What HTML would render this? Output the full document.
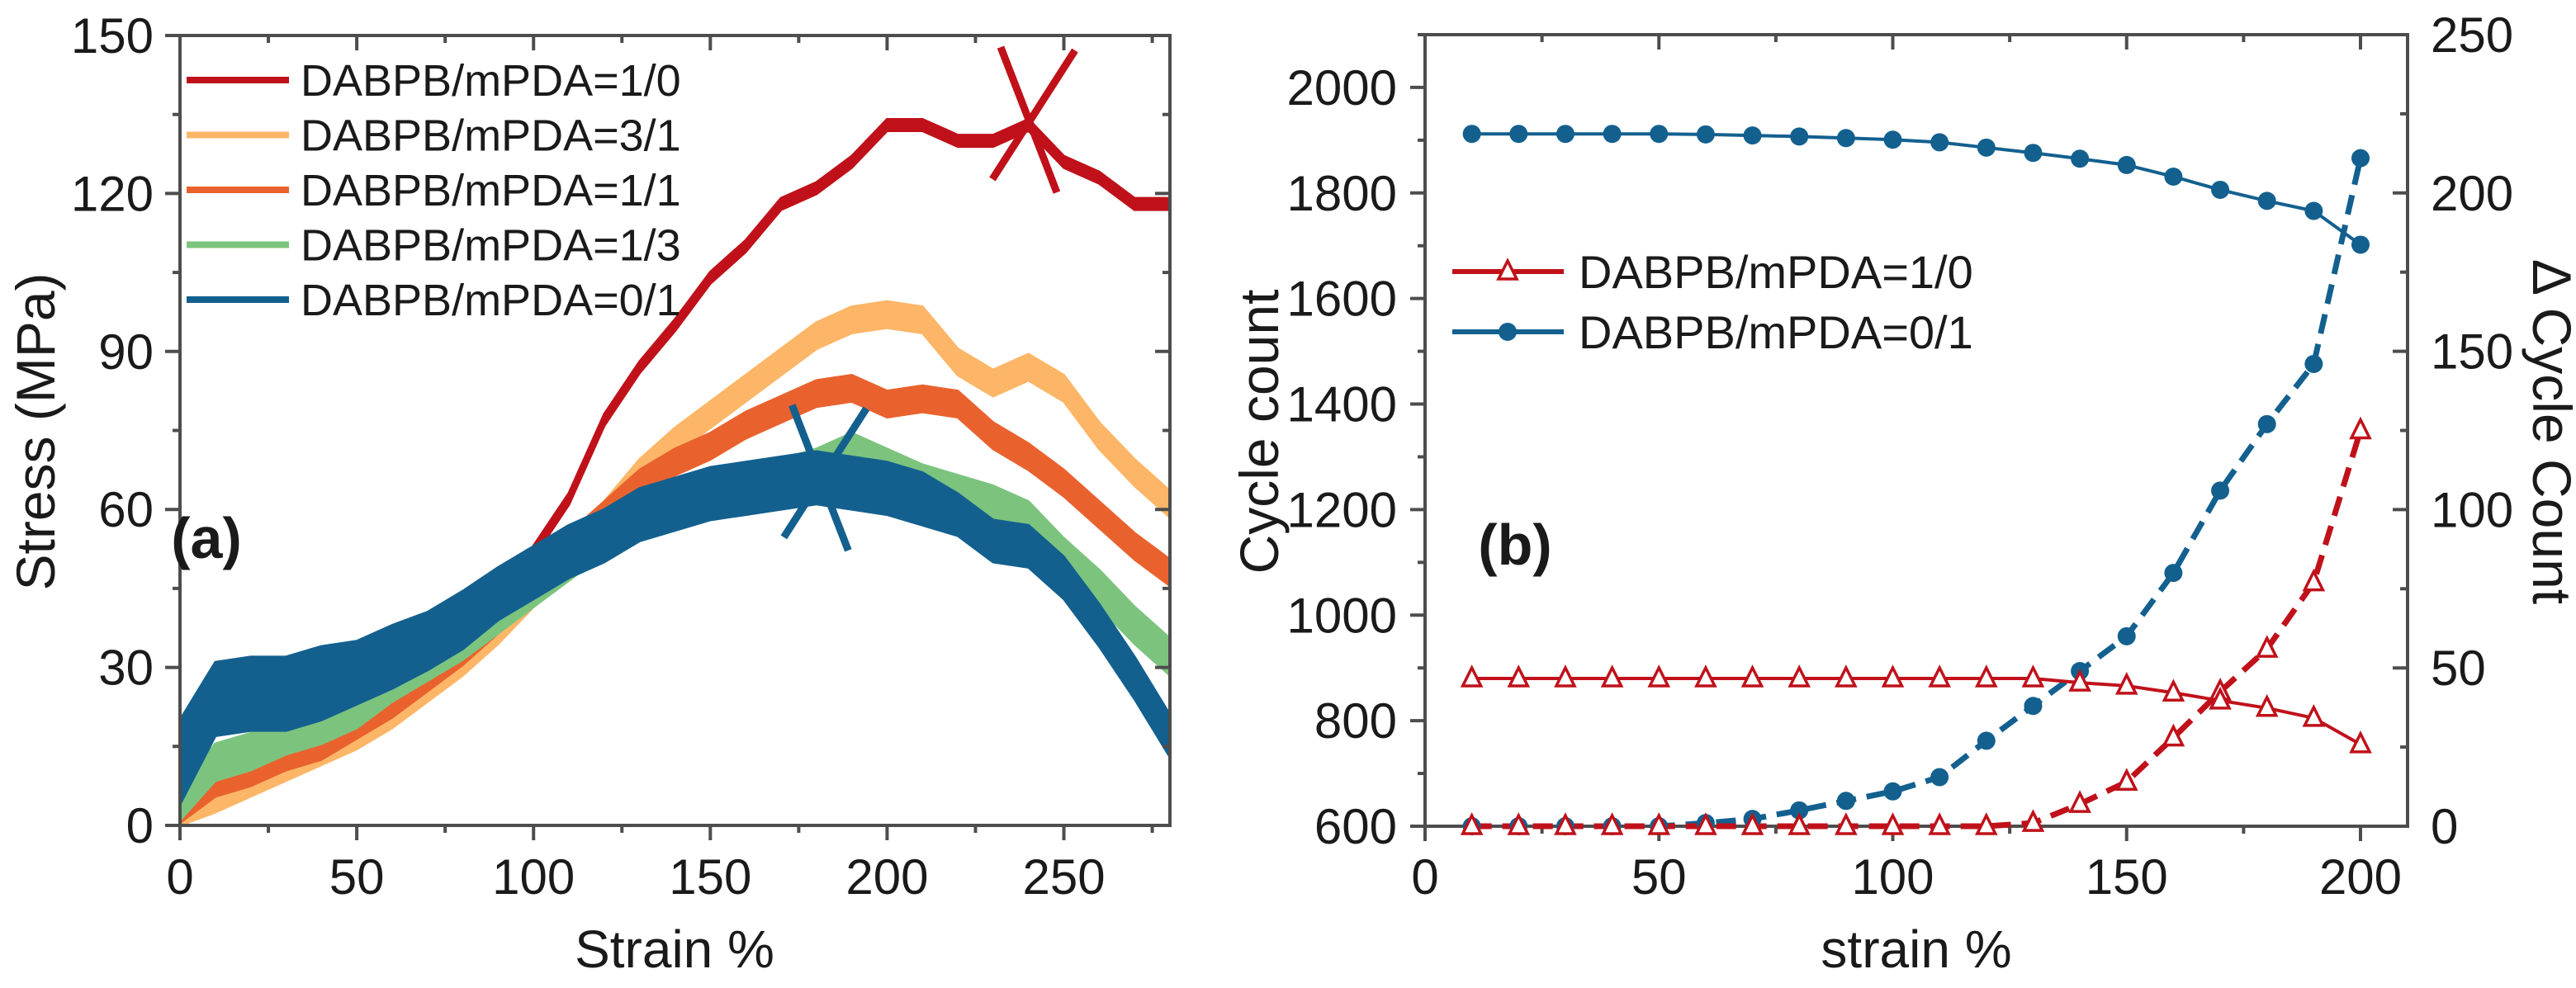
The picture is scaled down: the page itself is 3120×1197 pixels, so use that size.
<!DOCTYPE html>
<html><head><meta charset="utf-8"><style>
html,body{margin:0;padding:0;background:#fff;}
svg{display:block;font-family:"Liberation Sans",Arial,sans-serif;}
</style></head><body>
<svg id="fig" width="3120" height="1197" viewBox="0 0 3120 1197" xmlns="http://www.w3.org/2000/svg">
<g id="pa"></g>
<g id="pb"></g>
</svg>
<script>
// ---------- Panel (a) data ----------
const strainA = [0,10,20,30,40,50,60,70,80,90,100,110,120,130,140,150,160,170,180,190,200,210,220,230,240,250,260,270,280];
const red10 = [0,4,7,10,13,16,20,25,31,38,52,62,77,87,95,104,110,118,121,126,133,133,130,130,133,126,123,118,118];
const red10W = [0.5,0.5,0.5,0.5,0.5,0.5,0.5,0.5,0.5,0.5,1.1,1.1,1.1,1.1,1.1,1.1,1.1,1.1,1.1,1.1,1.1,1.1,1.1,1.1,1.1,1.1,1.1,1.1,1.1];
const lor31 = [0,5,8,11,14,17,21,26,31,37,44,52,59,67,73,78,83,88,93,96,97,96,88,84,87,83,74,67,61];
const lor31W = [1.5,2.5,2.5,2.5,2.5,2.5,2.5,2.5,2.5,2.5,2.5,2.5,2.5,2.5,2.5,2.5,2.5,2.5,2.5,2.5,2.5,2.5,2.5,2.5,2.5,2.5,2.5,2.5,2.5];
const or11 = [2,8,10,13,15,19,23,28,33,39,46,53,59,65,69,72,76,79,82,83,80,81,80,74,70,65,59,53,48];
const or11W = [1.5,2.5,2.5,2.5,2.5,2.5,2.5,2.5,2.5,2.5,2.5,2.5,2.5,2.5,2.5,2.5,2.5,2.5,2.5,2.5,2.5,2.5,2.5,2.5,2.5,2.5,2.5,2.5,2.5];
const gr13 = [4,12,14,17,19,22,27,31,35,40,45,50,55,58,61,63,65,66,68,71,68,65,63,61,58,51,45,38,32];
const gr13W = [3,3.5,3.5,3.5,3.5,3.5,3.5,3.5,3.5,3.5,3.5,3.5,3.5,3.5,3.5,3.5,3.5,3.5,3.5,3.5,3.5,3.5,3.5,3.5,3.5,3.5,3.5,3.5,3.5];
const bl01 = [12,24,25,25,27,29,32,35,39,44,48,52,55,59,61,63,64,65,66,65,64,62,59,54,53,47,38,28,17];
const bl01W = [8,7,7,7,7,6,6,5.5,5.5,5,5,5,5,5,5,5,5,5,5,5,5,5,4,4,4,4,4,4,4];
const breakA = [[241,134],[182,66]];
const xTicksA = [0,50,100,150,200,250];
const yTicksA = [0,30,60,90,120,150];
const legendA = ["DABPB/mPDA=1/0","DABPB/mPDA=3/1","DABPB/mPDA=1/1","DABPB/mPDA=1/3","DABPB/mPDA=0/1"];

// ---------- Panel (b) data ----------
const strainB = [10,20,30,40,50,60,70,80,90,100,110,120,130,140,150,160,170,180,190,200];
const cycBlue = [1912,1912,1912,1912,1912,1911,1909,1907,1904,1901,1896,1886,1876,1865,1853,1831,1806,1785,1766,1702];
const cycRed = [880,880,880,880,880,880,880,880,880,880,880,880,880,872,866,853,838,824,805,755];
const dBlue = [0,0,0,0,0,1,2.3,5,8,11,15.5,27,38,49,60,80,106,127,146,211];
const dRed = [0,0,0,0,0,0,0,0,0,0,0,0,1,7,14,28,42.5,56,77,125];
const xTicksB = [0,50,100,150,200];
const yTicksBL = [600,800,1000,1200,1400,1600,1800,2000];
const yTicksBR = [0,50,100,150,200,250];
const legendB = ["DABPB/mPDA=1/0","DABPB/mPDA=0/1"];

const NS="http://www.w3.org/2000/svg";
function mk(parent,tag,attrs,text){const e=document.createElementNS(NS,tag);for(const k in attrs)e.setAttribute(k,attrs[k]);if(text!==undefined)e.textContent=text;parent.appendChild(e);return e;}

const AX="#4d4d4d", TXT="#1a1a1a";
const cRed="#c0111a", cLor="#fdb667", cOr="#e9622e", cGr="#7cc47e", cBl="#13608f";

// ---- Panel a scales ----
const axL=218, axR=1417, ayT=43, ayB=1000;
const xA=v=>axL+v*(axR-axL)/280;
const yA=v=>ayB-v*(ayB-ayT)/150;
const pa=document.getElementById('pa');

function band(parent,xs,vs,ws,color,name,xf,yf){
  let up=[],lo=[];
  for(let i=0;i<xs.length;i++){up.push(xf(xs[i])+','+yf(vs[i]+ws[i]));lo.unshift(xf(xs[i])+','+yf(Math.max(0,vs[i]-ws[i])));}
  const p=mk(parent,'polygon',{points:up.concat(lo).join(' '),fill:color,stroke:color,'stroke-width':3,'stroke-linejoin':'round'});
  
  
}
band(pa,strainA,red10,red10W,cRed,'series-1-0',xA,yA);
band(pa,strainA,lor31,lor31W,cLor,'series-3-1',xA,yA);
band(pa,strainA,or11,or11W,cOr,'series-1-1',xA,yA);
band(pa,strainA,gr13,gr13W,cGr,'series-1-3',xA,yA);
band(pa,strainA,bl01,bl01W,cBl,'series-0-1',xA,yA);

// break markers
[[breakA[0],cRed,'break-marker-1-0'],[breakA[1],cBl,'break-marker-0-1']].forEach(([pt,c,n])=>{
  const g=mk(pa,'g',{});
  
  
  const cx=xA(pt[0]),cy=yA(pt[1]);
  mk(g,'line',{x1:cx-38,y1:cy-88,x2:cx+30,y2:cy+88,stroke:c,'stroke-width':9});
  mk(g,'line',{x1:cx+52,y1:cy-84,x2:cx-48,y2:cy+72,stroke:c,'stroke-width':9});
});

// axes a
function frame(parent,l,r,t,b,name){const f=mk(parent,'rect',{x:l,y:t,width:r-l,height:b-t,fill:'none',stroke:AX,'stroke-width':4});}
frame(pa,axL,axR,ayT,ayB,'plot-frame-a');
for(let v=0;v<=280;v+=25){const maj=v%50===0;const x=xA(v);
  mk(pa,'line',{x1:x,y1:ayB,x2:x,y2:ayB+(maj?18:9),stroke:AX,'stroke-width':4});
  mk(pa,'line',{x1:x,y1:ayT,x2:x,y2:ayT+(maj?18:9),stroke:AX,'stroke-width':4});}
for(let v=0;v<=150;v+=15){const maj=v%30===0;const y=yA(v);
  mk(pa,'line',{x1:axL,y1:y,x2:axL-(maj?18:9),y2:y,stroke:AX,'stroke-width':4});
  mk(pa,'line',{x1:axR,y1:y,x2:axR-(maj?18:9),y2:y,stroke:AX,'stroke-width':4});}
xTicksA.forEach(v=>{const t=mk(pa,'text',{x:xA(v),y:1083,'font-size':60,'text-anchor':'middle',fill:TXT},v);
  
  });
yTicksA.forEach(v=>{const t=mk(pa,'text',{x:186,y:yA(v)+21,'font-size':60,'text-anchor':'end',fill:TXT},v);
  
  });
let tt=mk(pa,'text',{x:817,y:1172,'font-size':64,'text-anchor':'middle',fill:TXT},'Strain %');


tt=mk(pa,'text',{x:0,y:0,'font-size':66,'text-anchor':'middle',fill:TXT,transform:'translate(66,523) rotate(-90)'},'Stress (MPa)');


tt=mk(pa,'text',{x:250,y:676,'font-size':70,'font-weight':'bold','text-anchor':'middle',fill:TXT},'(a)');


const legColA=[cRed,cLor,cOr,cGr,cBl];
legendA.forEach((s,i)=>{const y=97+i*66.5;const g=mk(pa,'g',{});
  
  
  mk(g,'line',{x1:226,y1:y,x2:350,y2:y,stroke:legColA[i],'stroke-width':8});
  mk(g,'text',{x:364,y:y+19,'font-size':54,fill:TXT},s);});

// ---- Panel b scales ----
const bxL=1726, bxR=2916, byT=42, byB=1001;
const xB=v=>bxL+v*(2859-bxL)/200;
const yL=v=>byB-(v-600)*(byB-byT)/1500;
const yR=v=>byB-v*(byB-byT)/250;
const pb=document.getElementById('pb');
frame(pb,bxL,bxR,byT,byB,'plot-frame-b');
for(let v=0;v<=210;v+=25){const maj=v%50===0;const x=xB(v);
  mk(pb,'line',{x1:x,y1:byB,x2:x,y2:byB+(maj?18:9),stroke:AX,'stroke-width':4});
  mk(pb,'line',{x1:x,y1:byT,x2:x,y2:byT+(maj?18:9),stroke:AX,'stroke-width':4});}
for(let v=600;v<=2100;v+=100){const maj=v%200===0;const y=yL(v);
  mk(pb,'line',{x1:bxL,y1:y,x2:bxL-(maj?18:9),y2:y,stroke:AX,'stroke-width':4});}
for(let v=0;v<=250;v+=25){const maj=v%50===0;const y=yR(v);
  mk(pb,'line',{x1:bxR,y1:y,x2:bxR-(maj?18:9),y2:y,stroke:AX,'stroke-width':4});}
xTicksB.forEach(v=>{const t=mk(pb,'text',{x:xB(v),y:1083,'font-size':60,'text-anchor':'middle',fill:TXT},v);
  
  });
yTicksBL.forEach(v=>{const t=mk(pb,'text',{x:1692,y:yL(v)+21,'font-size':60,'text-anchor':'end',fill:TXT},v);
  
  });
yTicksBR.forEach(v=>{const t=mk(pb,'text',{x:2944,y:yR(v)+21,'font-size':60,'text-anchor':'start',fill:TXT},v);
  
  });
tt=mk(pb,'text',{x:2321,y:1172,'font-size':64,'text-anchor':'middle',fill:TXT},'strain %');


tt=mk(pb,'text',{x:0,y:0,'font-size':66,'text-anchor':'middle',fill:TXT,transform:'translate(1548,523) rotate(-90)'},'Cycle count');


tt=mk(pb,'text',{x:0,y:0,'font-size':66,'text-anchor':'middle',fill:TXT,transform:'translate(3068,523) rotate(90)'},'Δ Cycle Count');


tt=mk(pb,'text',{x:1835,y:684,'font-size':70,'font-weight':'bold','text-anchor':'middle',fill:TXT},'(b)');



function poly(parent,xs,vs,yf,color,dash,name){
  const pts=xs.map((x,i)=>xB(x)+','+yf(vs[i])).join(' ');
  const a={points:pts,fill:'none',stroke:color,'stroke-width':dash?7:4,'stroke-linejoin':'round'};
  if(dash)a['stroke-dasharray']='24 13';
  const p=mk(parent,'polyline',a);
  
  
}
function tri(parent,cx,cy){return mk(parent,'polygon',{points:`${cx},${cy-13} ${cx-11},${cy+9} ${cx+11},${cy+9}`,fill:'#fff',stroke:cRed,'stroke-width':3.5});}

poly(pb,strainB,dBlue,yR,cBl,true,'delta-line-0-1');
poly(pb,strainB,dRed,yR,cRed,true,'delta-line-1-0');
poly(pb,strainB,cycBlue,yL,cBl,false,'cycle-line-0-1');
poly(pb,strainB,cycRed,yL,cRed,false,'cycle-line-1-0');
strainB.forEach((x,i)=>{
  const c1=mk(pb,'circle',{cx:xB(x),cy:yR(dBlue[i]),r:11,fill:cBl});
  
  
  const t1=tri(pb,xB(x),yR(dRed[i]));
  
  
  const c2=mk(pb,'circle',{cx:xB(x),cy:yL(cycBlue[i]),r:11,fill:cBl});
  
  
  const t2=tri(pb,xB(x),yL(cycRed[i]));
  
  
});
// legend b
[[cRed,329,'tri'],[cBl,402,'dot']].forEach(([c,y,m],i)=>{const g=mk(pb,'g',{});
  
  
  mk(g,'line',{x1:1759,y1:y,x2:1894,y2:y,stroke:c,'stroke-width':6});
  if(m==='tri')tri(g,1826,y);else mk(g,'circle',{cx:1826,cy:y,r:11,fill:c});
  mk(g,'text',{x:1912,y:y+20,'font-size':56,fill:TXT},legendB[i]);});
</script>
</body></html>
